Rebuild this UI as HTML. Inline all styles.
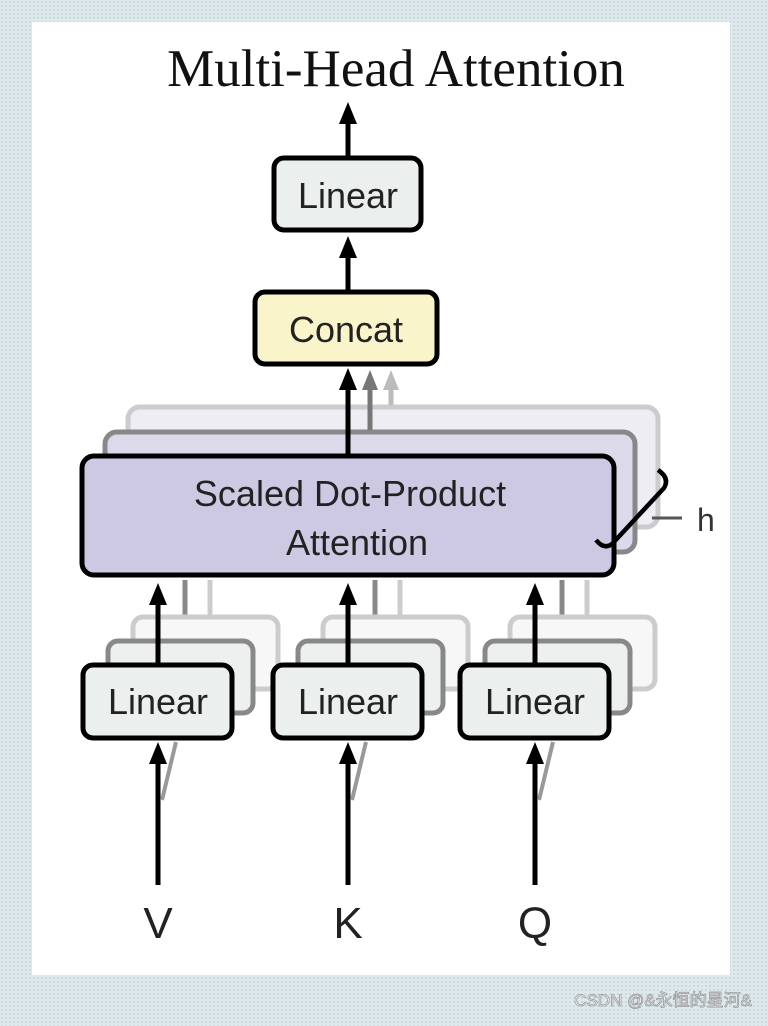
<!DOCTYPE html>
<html><head><meta charset="utf-8"><style>
html,body{margin:0;padding:0}
body{width:768px;height:1026px;overflow:hidden;background:#dfe9ec;
background-image:radial-gradient(#c8dade 1px,transparent 1.3px);background-size:4px 4px;}
svg{position:absolute;left:0;top:0}
</style></head><body>
<svg width="768" height="1026" viewBox="0 0 768 1026">
<rect x="32" y="22" width="698" height="953" fill="#fff"/>
<text x="396" y="86" font-family="Liberation Serif, serif" font-size="53" text-anchor="middle" fill="#111">Multi-Head Attention</text>

<g font-family="Liberation Sans, DejaVu Sans, sans-serif" fill="#222">
<line x1="348" y1="157" x2="348" y2="118" stroke="#000" stroke-width="5"/>
<polygon points="348,102 339,124 357,124" fill="#000"/>
<rect x="274" y="158" width="147" height="72" rx="10" fill="#ebefed" stroke="#000" stroke-width="5"/>
<text x="348" y="208" font-size="36" text-anchor="middle">Linear</text>
<line x1="348" y1="292" x2="348" y2="252" stroke="#000" stroke-width="5"/>
<polygon points="348,236 339,258 357,258" fill="#000"/>
<rect x="255" y="292" width="182" height="72" rx="10" fill="#f9f4c9" stroke="#000" stroke-width="5"/>
<text x="346" y="342" font-size="36" text-anchor="middle">Concat</text>

<rect x="128" y="407" width="530" height="120" rx="12" fill="#eeedf4" stroke="#ccc" stroke-width="5"/>
<line x1="391" y1="405" x2="391" y2="385" stroke="#bbb" stroke-width="5"/>
<polygon points="391,370 383,390 399,390" fill="#bbb"/>
<rect x="105" y="432" width="530" height="120" rx="12" fill="#dcdaea" stroke="#888" stroke-width="5"/>
<line x1="370" y1="430" x2="370" y2="385" stroke="#777" stroke-width="5"/>
<polygon points="370,370 362,390 378,390" fill="#777"/>
<rect x="82" y="456" width="532" height="119" rx="12" fill="#cdc9e3" stroke="#000" stroke-width="5"/>
<line x1="348" y1="455" x2="348" y2="385" stroke="#000" stroke-width="5"/>
<polygon points="348,368 339,390 357,390" fill="#000"/>
<text x="350" y="506" font-size="36" text-anchor="middle">Scaled Dot-Product</text>
<text x="357" y="555" font-size="36" text-anchor="middle">Attention</text>
<path d="M658,470 Q670,478 664,488 L612,544 Q604,550 596,540" fill="none" stroke="#000" stroke-width="4.5"/>
<line x1="652" y1="518" x2="682" y2="518" stroke="#555" stroke-width="3"/>
<text x="697" y="531" font-size="32" fill="#333">h</text>

<g id="L">
<line x1="210" y1="580" x2="210" y2="620" stroke="#ccc" stroke-width="5"/>
<line x1="185" y1="580" x2="185" y2="645" stroke="#888" stroke-width="5"/>
<rect x="133" y="617" width="145" height="72" rx="10" fill="#f6f7f6" stroke="#ccc" stroke-width="5"/>
<rect x="108" y="641" width="145" height="72" rx="10" fill="#eef0ef" stroke="#888" stroke-width="5"/>
<rect x="83" y="665" width="149" height="73" rx="10" fill="#ebefed" stroke="#000" stroke-width="5"/>
<text x="158" y="714" font-size="36" text-anchor="middle">Linear</text>
<line x1="158" y1="665" x2="158" y2="600" stroke="#000" stroke-width="5"/>
<polygon points="158,583 149,605 167,605" fill="#000"/>
<line x1="158" y1="885" x2="158" y2="760" stroke="#000" stroke-width="5"/>
<polygon points="158,742 149,764 167,764" fill="#000"/>
<line x1="162" y1="800" x2="176" y2="742" stroke="#999" stroke-width="4"/>
</g>
<use href="#L" transform="translate(190,0)"/>
<use href="#L" transform="translate(377,0)"/>
<text x="158" y="938" font-size="44" text-anchor="middle">V</text>
<text x="348" y="938" font-size="44" text-anchor="middle">K</text>
<text x="535" y="938" font-size="44" text-anchor="middle">Q</text>
</g>
<text x="752" y="1006" font-family="Liberation Sans, Noto Sans CJK SC, sans-serif" font-size="17" text-anchor="end" fill="#fff" stroke="#999" stroke-width="0.8">CSDN @&amp;永恒的星河&amp;</text>
</svg>
</body></html>
